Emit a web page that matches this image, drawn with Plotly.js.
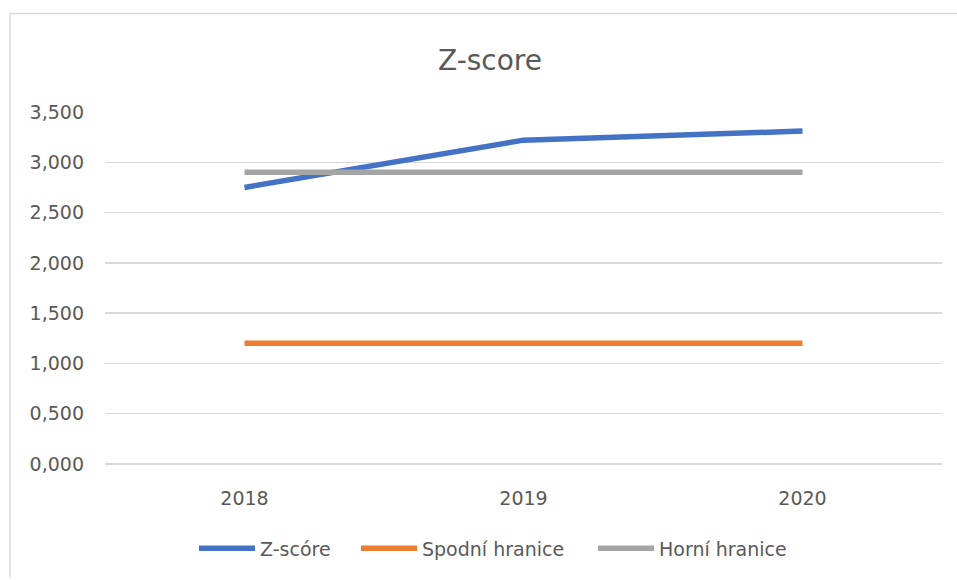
<!DOCTYPE html>
<html>
<head>
<meta charset="utf-8">
<script src="https://cdn.plot.ly/plotly-3.0.1.min.js"></script>
<style>html,body{margin:0;padding:0;background:#fff;}#chart{width:957px;height:580px;}</style>
</head>
<body>
<div id="chart"></div>
<script>
const years = ['2018', '2019', '2020'];
const zScore = [2.75, 3.22, 3.31];
const lowerBound = [1.2, 1.2, 1.2];
const upperBound = [2.9, 2.9, 2.9];
const seriesNames = ['Z-scóre', 'Spodní hranice', 'Horní hranice'];
const yTicks = [0, 0.5, 1, 1.5, 2, 2.5, 3, 3.5];

const FONT = 'DejaVu Sans';
const TXT = '#595959';
const PL = 105, PW = 837, PT = 112, PH = 354;
const px = p => (p - PL) / PW;

const traces = [
  {x: years, y: zScore, name: seriesNames[0], type: 'scatter', mode: 'lines',
   line: {color: '#4472C4', width: 5.5}, legend: 'legend'},
  {x: years, y: lowerBound, name: seriesNames[1], type: 'scatter', mode: 'lines',
   line: {color: '#ED7D31', width: 5.5}, legend: 'legend2'},
  {x: years, y: upperBound, name: seriesNames[2], type: 'scatter', mode: 'lines',
   line: {color: '#A5A5A5', width: 5.5}, legend: 'legend3'}
];

function leg(startPx) {
  return {orientation: 'h', x: px(startPx), xanchor: 'left', y: -(551 - 466) / PH, yanchor: 'middle',
          font: {family: FONT, size: 19, color: TXT}, itemwidth: 56,
          bgcolor: 'rgba(0,0,0,0)'};
}

const layout = {
  width: 957, height: 580,
  margin: {l: PL, r: 15, t: PT, b: 114},
  paper_bgcolor: '#ffffff', plot_bgcolor: '#ffffff',
  separators: ',.',
  font: {family: FONT, color: TXT, size: 19},
  title: {text: 'Z-score', x: 0.512, xref: 'container', xanchor: 'center',
          y: 1 - 60/580, yref: 'container', yanchor: 'middle',
          font: {family: FONT, size: 28, color: TXT}},
  xaxis: {type: 'category', range: [-0.5, 2.5], showgrid: false, zeroline: false,
          showline: false, ticks: '', ticklabelstandoff: 21,
          tickfont: {family: FONT, size: 19, color: TXT}},
  yaxis: {range: [0, 3.5], tickvals: yTicks, tickformat: ',.3f',
          showgrid: true, gridcolor: '#D9D9D9', gridwidth: 1.5,
          zeroline: true, zerolinecolor: '#D9D9D9', zerolinewidth: 1.5,
          showline: false, ticks: '', ticklabelstandoff: 20,
          tickfont: {family: FONT, size: 19, color: TXT}},
  showlegend: true,
  legend: leg(199 - 5),
  legend2: leg(361 - 5),
  legend3: leg(598 - 5),
  shapes: [
    {type: 'line', xref: 'paper', yref: 'paper', x0: px(10), x1: px(10), y0: 1 + 99/PH, y1: -114/PH,
     line: {color: '#D9D9D9', width: 1.5}},
    {type: 'line', xref: 'paper', yref: 'paper', x0: px(10), x1: 1.1, y0: 1 + 99/PH, y1: 1 + 99/PH,
     line: {color: '#D9D9D9', width: 1.5}}
  ]
};

Plotly.newPlot('chart', traces, layout, {displayModeBar: false, staticPlot: true});
</script>
</body>
</html>
